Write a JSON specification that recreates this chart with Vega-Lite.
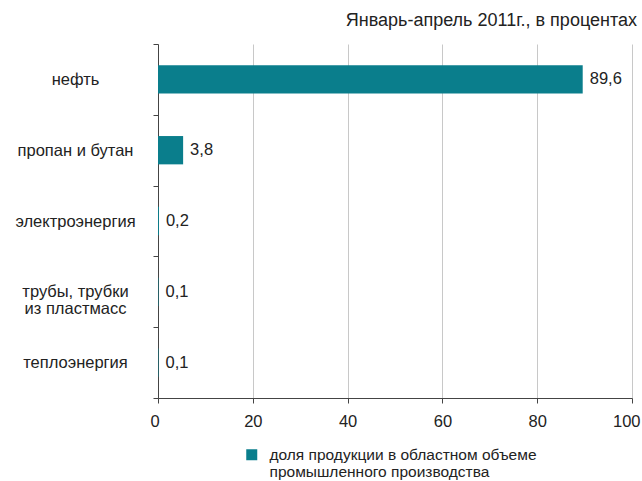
{
  "$schema": "https://vega.github.io/schema/vega-lite/v6.json",
  "width": 474,
  "height": 354,
  "autosize": {"type": "none"},
  "padding": {"left": 158, "top": 44, "right": 10, "bottom": 83},
  "background": "white",
  "config": {
    "view": {"stroke": null},
    "font": "Liberation Sans",
    "legend": {"padding": 0}
  },
  "title": {
    "text": "Январь-апрель 2011г., в процентах",
    "anchor": "end",
    "frame": "group",
    "orient": "top",
    "fontSize": 18,
    "fontWeight": "normal",
    "color": "#222222",
    "offset": 6,
    "dx": 5
  },
  "data": {
    "values": [
      {"product": "нефть", "value": 89.6, "label": "89,6", "series": "доля продукции в областном объеме промышленного производства"},
      {"product": "пропан и бутан", "value": 5.3, "label": "3,8", "series": "доля продукции в областном объеме промышленного производства"},
      {"product": "электроэнергия", "value": 0.2, "label": "0,2", "series": "доля продукции в областном объеме промышленного производства"},
      {"product": "трубы, трубки из пластмасс", "value": 0.1, "label": "0,1", "series": "доля продукции в областном объеме промышленного производства"},
      {"product": "теплоэнергия", "value": 0.1, "label": "0,1", "series": "доля продукции в областном объеме промышленного производства"}
    ]
  },
  "encoding": {
    "y": {
      "field": "product",
      "type": "nominal",
      "sort": null,
      "scale": {"paddingInner": 0, "paddingOuter": 0},
      "axis": {
        "title": null,
        "tickBand": "extent",
        "tickSize": 5,
        "tickColor": "#444444",
        "domainColor": "#444444",
        "labelAlign": "center",
        "labelBaseline": "middle",
        "labelPadding": 78,
        "labelFontSize": 16.5,
        "labelColor": "#222222",
        "labelLineHeight": 17,
        "labelLimit": 300,
        "labelExpr": "datum.label == 'трубы, трубки из пластмасс' ? ['трубы, трубки', 'из пластмасс'] : datum.label"
      }
    }
  },
  "layer": [
    {
      "mark": {"type": "bar", "height": {"band": 0.4}},
      "encoding": {
        "x": {
          "field": "value",
          "type": "quantitative",
          "scale": {"domain": [0, 100], "nice": false},
          "axis": {
            "title": null,
            "values": [0, 20, 40, 60, 80, 100],
            "grid": true,
            "gridColor": "#c8c8c8",
            "gridWidth": 1,
            "domainColor": "#444444",
            "tickColor": "#444444",
            "tickSize": 5,
            "labelPadding": 10,
            "labelFontSize": 16.5,
            "labelColor": "#222222",
            "labelFlush": true,
            "labelFlushOffset": 8
          }
        },
        "color": {
          "field": "series",
          "type": "nominal",
          "scale": {"range": ["#0a7e8c"]},
          "legend": {
            "title": null,
            "orient": "none",
            "legendX": 86,
            "legendY": 403,
            "symbolType": "square",
            "symbolSize": 121,
            "symbolStrokeWidth": 0,
            "labelFontSize": 15.5,
            "labelColor": "#222222",
            "labelLimit": 500,
            "labelBaseline": "middle",
            "labelLineHeight": 17,
            "labelOffset": 10,
            "labelExpr": "['доля продукции в областном объеме', 'промышленного производства']"
          }
        }
      }
    },
    {
      "mark": {"type": "text", "align": "left", "baseline": "middle", "dx": 7, "fontSize": 16.5, "color": "#222222"},
      "encoding": {
        "x": {"field": "value", "type": "quantitative"},
        "text": {"field": "label"}
      }
    }
  ]
}
